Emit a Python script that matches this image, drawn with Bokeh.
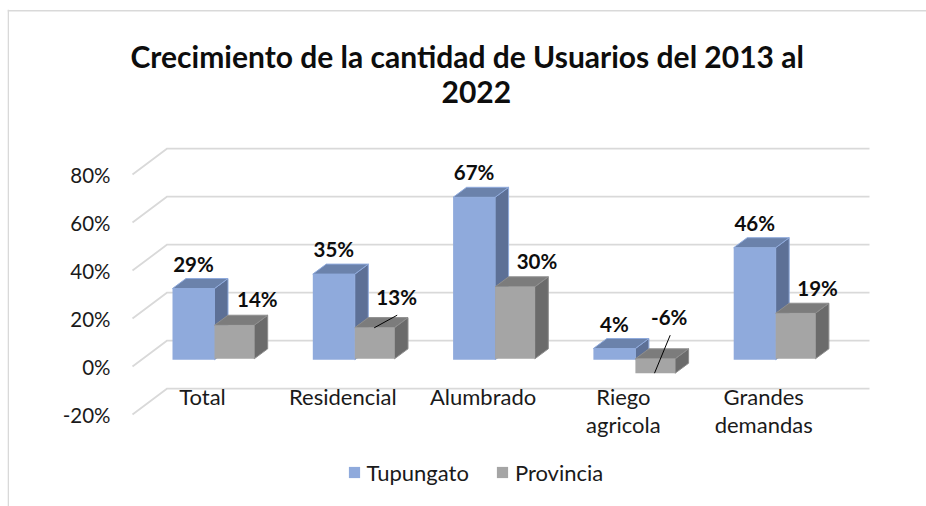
from bokeh.plotting import figure
from bokeh.models import (ColumnDataSource, Range1d, LinearAxis, FixedTicker, Legend, LegendItem, Title)
from bokeh.core.properties import value
from bokeh.embed import file_html
from bokeh.resources import INLINE

# ---- data ----
categories = ["Total", "Residencial", "Alumbrado", "Riego\nagricola", "Grandes\ndemandas"]
tupungato = [29, 35, 67, 4, 46]
provincia = [14, 13, 30, -6, 19]
tick_values = [-20, 0, 20, 40, 60, 80]
tick_labels = ["-20%", "0%", "20%", "40%", "60%", "80%"]
title_lines = ["Crecimiento de la cantidad de Usuarios del 2013 al", "2022"]

# ---- geometry (image pixels -> data) ----
W, H = 926, 506
FRAME_L, FRAME_R, FRAME_T, FRAME_B = 7, 926, 9, 506
STEP, UNIT = 140.3, 2.4            # px per category, px per percent
X0, Y0 = 202.0, 366.0              # first category label centre, front-plane zero
def xd(px): return (px - X0) / STEP
def yd(py): return (Y0 - py) / UNIT

BAR_L = xd(172)
BLUE_W = 42 / STEP
GREY_W = 39.7 / STEP
DX, DY = 13.5 / STEP, 10 / UNIT     # bar depth
BLUE_TOP, BLUE_BASE, GREY_PLANE = 3.5, 2.8, 3.2
WALL_DX, WALL_DY = 34.7 / STEP, 10.8

FONT = "Lato"
p = figure(width=W, height=H, output_backend="svg", toolbar_location=None,
           x_axis_location=None, y_axis_location=None,
           x_range=Range1d(xd(FRAME_L), xd(FRAME_R)),
           y_range=Range1d(yd(FRAME_B), yd(FRAME_T)),
           min_border_left=FRAME_L, min_border_right=0,
           min_border_top=FRAME_T, min_border_bottom=0)
p.outline_line_color = None
p.grid.visible = False

# y axis: labels pulled into the frame, on the front plane
yax = LinearAxis(ticker=FixedTicker(ticks=tick_values),
                 major_label_overrides=dict(zip(tick_values, tick_labels)),
                 major_label_text_font=FONT, major_label_text_font_size="20.5px",
                 major_label_text_color="#1a1a1a", major_label_standoff=FRAME_L - 116,
                 axis_line_color=None, major_tick_line_color=None, minor_tick_line_color=None)
p.add_layout(yax, "left")

# x axis: category labels pulled into the frame
xax = LinearAxis(ticker=FixedTicker(ticks=list(range(len(categories)))),
                 major_label_overrides=dict(enumerate(categories)),
                 major_label_text_font=FONT, major_label_text_font_size="22px",
                 major_label_text_color="#1a1a1a", major_label_standoff=376 - FRAME_B,
                 major_label_text_line_height=1.05,
                 axis_line_color=None, major_tick_line_color=None, minor_tick_line_color=None)
p.add_layout(xax, "below")

# title
for txt, off, sto in ((title_lines[1], 441 - FRAME_L, -186), (title_lines[0], 130 - FRAME_L, -129)):
    p.add_layout(Title(text=txt, align="left", text_font=FONT, text_font_size="30px",
                       text_font_style="bold", text_color="#0d0d0d", offset=off, standoff=sto), "above")

# outer chart border
p.segment([xd(7.7), xd(7)], [yd(506), yd(10.3)], [xd(7.7), xd(926)], [yd(9), yd(10.3)],
          line_color="#d9d9d9", line_width=1.6)

# gridlines: back wall and floor diagonals
wall_l, wall_r = xd(166.7), xd(869)
gx, gy = [], []
for v in tick_values:
    gx.append([wall_l - WALL_DX, wall_l, wall_r])
    gy.append([v, v + WALL_DY, v + WALL_DY])
p.multi_line(gx, gy, line_color="#d9d9d9", line_width=1.8)

def bars(vals, left_shift, width, top_plane, base_plane, front, top_c, side_c, edge):
    xs = [i + left_shift for i in range(len(vals))]
    tops = [max(v, 0) + top_plane for v in vals]
    bottoms = [min(v, 0) + base_plane for v in vals]
    sx, sy, tx, ty = [], [], [], []
    for x, a, b in zip(xs, tops, bottoms):
        r = x + width
        sx.append([r, r + DX, r + DX, r]); sy.append([a, a + DY, b + DY, b])
        tx.append([x, r, r + DX, x + DX]); ty.append([a, a, a + DY, a + DY])
    p.patches(sx, sy, fill_color=side_c, line_color=edge, line_width=1)
    p.patches(tx, ty, fill_color=top_c, line_color=edge, line_width=1)
    src = ColumnDataSource(dict(x=[x + width / 2 for x in xs], top=tops, bottom=bottoms))
    return p.vbar(x="x", top="top", bottom="bottom", width=width, source=src,
                  fill_color=front, line_color=None)

r1 = bars(tupungato, BAR_L, BLUE_W, BLUE_TOP, BLUE_BASE, "#8faadc", "#6b82ab", "#5d7096", "#8faadc")
r2 = bars(provincia, BAR_L + BLUE_W, GREY_W, GREY_PLANE, GREY_PLANE, "#a5a5a5", "#7c7c7c", "#6b6b6b", "#8e8e8e")

# leader lines
p.segment([xd(373.7), xd(654)], [yd(327.3), yd(372.7)], [xd(396.7), xd(669.7)], [yd(314.7), yd(334.7)],
          line_color="#000000", line_width=1)

# data labels
lab_bold = dict(text_font=value(FONT), text_font_size={"value": "20.5px"}, text_font_style="bold",
                text_color="#0d0d0d", text_align="center", text_baseline="middle")
n = range(len(tupungato))
p.text([i + BAR_L + BLUE_W / 2 for i in n], [max(v, 0) + BLUE_TOP for v in tupungato],
       text=[f"{v}%" for v in tupungato], y_offset=[-25] * 5, **lab_bold)
p.text([i + BAR_L + BLUE_W + GREY_W / 2 for i in n], [max(v, 0) + GREY_PLANE for v in provincia],
       text=[f"{v}%" for v in provincia], x_offset=[23, 22, 22, 14, 22],
       y_offset=[-26.7, -30.6, -26, -41.6, -25.4], **lab_bold)

# legend
leg = Legend(items=[LegendItem(label="Tupungato", renderers=[r1]),
                    LegendItem(label="Provincia", renderers=[r2])],
             orientation="horizontal", location=(346.5 - FRAME_L, FRAME_B - 485.5),
             label_text_font=FONT, label_text_font_size="22px", label_text_color="#1a1a1a",
             glyph_width=14, glyph_height=14, label_standoff=6, spacing=26,
             padding=0, margin=0, border_line_color=None, background_fill_alpha=0)
p.add_layout(leg)

open("out.html", "w").write(file_html(p, INLINE))
